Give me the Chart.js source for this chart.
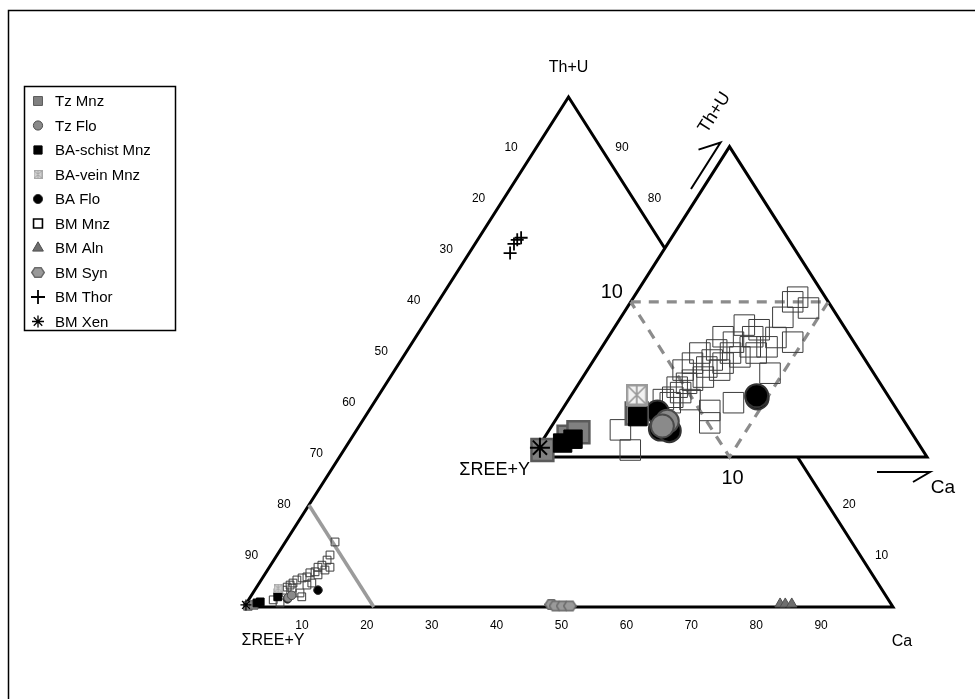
<!DOCTYPE html>
<html>
<head>
<meta charset="utf-8">
<title>Th+U – ΣREE+Y – Ca</title>
<style>
  html, body { margin: 0; padding: 0; background: #fff; }
  #wrap { width: 975px; height: 699px; }
</style>
<script src="https://cdn.jsdelivr.net/npm/chart.js@4.4.1/dist/chart.umd.min.js"></script>
</head>
<body>
<div id="wrap"><canvas id="ternary" width="975" height="699"></canvas></div>
<script>
const FONT = '"Liberation Sans", Arial, Helvetica, sans-serif';

// ---- categories ----
const seriesNames = ['Tz Mnz', 'Tz Flo', 'BA-schist Mnz', 'BA-vein Mnz', 'BA Flo',
                     'BM Mnz', 'BM Aln', 'BM Syn', 'BM Thor', 'BM Xen'];

// ---- whole diagram: each analysis as [Th+U %, Ca %]; ΣREE+Y is the remainder ----
const tzMnz      = [[0.2, 0.5], [0.4, 1.3], [2.8, 3.9]];
const tzFlo      = [[1.8, 5.9], [2.3, 6.2]];
const baSchist   = [[0.8, 1.6], [1.0, 2.0], [2.0, 4.2]];
const baVein     = [[3.7, 3.4]];
const baFlo      = [[3.3, 9.75], [1.6, 5.9]];
const bmMnz      = [[12.75, 7.65], [10.2, 8.15], [9.2, 8.2], [8.2, 7.9], [7.8, 9.35], [7.8, 7.5],
                    [7.25, 8.85], [6.9, 7.5], [6.7, 6.8], [6.3, 8.25], [5.9, 6.75], [5.7, 6.1],
                    [5.3, 5.5], [4.7, 5.2], [4.7, 8.1], [4.3, 7.55], [4.3, 4.95], [3.9, 4.7],
                    [3.7, 5.55], [3.3, 4.35], [2.75, 7.25], [2.0, 7.9], [1.4, 3.8], [0.8, 5.15]];
const bmAln      = [[0.6, 82.3], [0.6, 83.1], [0.6, 84.1]];
const bmSyn      = [[0.5, 47.1], [0.2, 47.9], [0.2, 49.0], [0.2, 50.1]];
const bmThor     = [[69.4, 6.3], [71.2, 6.0], [72.0, 6.1], [72.4, 6.5]];
const bmXen      = [[0.4, 0.1]];

// ---- enlarged ΣREE+Y corner: [Th+U %, Ca %], both axes running 0–20 % ----
const tzMnzCorner    = [[0.45, 0.3], [1.3, 1.2], [1.6, 1.55], [2.8, 3.9]];
const tzFloCorner    = [[2.3, 5.7], [2.0, 5.6]];
const baSchistCorner = [[0.9, 1.1], [1.15, 1.5], [2.6, 4.05]];
const baVeinCorner   = [[4.0, 3.3]];
const baFloCorner    = [[1.8, 5.6], [1.7, 6.1], [2.9, 4.9], [3.8, 9.5], [3.95, 9.4]];
const bmMnzCorner    = [[10.3, 8.3], [10.0, 8.2], [9.6, 9.2], [9.0, 8.2], [7.4, 9.5], [7.7, 8.5],
                        [8.2, 7.4], [7.1, 8.35], [7.1, 7.5], [6.7, 8.0], [7.4, 6.5], [6.45, 7.3],
                        [6.7, 6.7], [6.05, 6.65], [6.25, 6.0], [5.8, 5.95], [5.6, 6.7], [5.15, 6.1],
                        [6.05, 5.1], [4.95, 5.65], [5.6, 4.85], [4.75, 5.45], [4.15, 5.45], [3.85, 5.2],
                        [3.5, 5.25], [3.7, 4.8], [3.7, 6.15], [4.5, 5.1], [3.5, 8.45], [2.2, 7.9],
                        [1.75, 3.6], [0.45, 4.75], [3.0, 7.5], [5.4, 9.35], [6.9, 5.9], [7.75, 5.8],
                        [7.75, 7.3], [8.5, 6.5], [6.7, 5.15]];
const bmXenCorner    = [[0.6, 0.1]];

// ---- tick labels ----
const edgeTicks   = [10, 20, 30, 40, 50, 60, 70, 80, 90];
const rightTicks  = [90, 80, 20, 10];
const cornerTicks = [10];
const cornerRange = 20;

const mainSets = {
  'Tz Mnz': tzMnz, 'Tz Flo': tzFlo, 'BA-schist Mnz': baSchist, 'BA-vein Mnz': baVein,
  'BA Flo': baFlo, 'BM Mnz': bmMnz, 'BM Aln': bmAln, 'BM Syn': bmSyn, 'BM Thor': bmThor, 'BM Xen': bmXen
};
const cornerSets = {
  'Tz Mnz': tzMnzCorner, 'Tz Flo': tzFloCorner, 'BA-schist Mnz': baSchistCorner,
  'BA-vein Mnz': baVeinCorner, 'BA Flo': baFloCorner, 'BM Mnz': bmMnzCorner, 'BM Xen': bmXenCorner
};

// ternary composition -> plane coordinates of the main triangle (base 0..100, apex height 100)
function tern(t, c) { return { x: c + t / 2, y: t }; }
// placement of the enlarged corner triangle in the same plane
const INSET = { x0: 44.38, y0: 29.41, k: 60.86 / cornerRange };
function ternCorner(t, c) {
  return { x: INSET.x0 + INSET.k * (c + t / 2), y: INSET.y0 + INSET.k * t };
}

// ---- custom marker images ----
function hexIcon(d, fill, stroke, lw) {
  const cv = document.createElement('canvas');
  cv.width = d; cv.height = Math.round(d * 0.9);
  const g = cv.getContext('2d');
  const r = (d - lw) / 2, cx = d / 2, cy = cv.height / 2;
  g.beginPath();
  for (let i = 0; i < 6; i++) {
    const a = Math.PI / 3 * i;
    const px = cx + r * Math.cos(a), py = cy + r * 0.9 * Math.sin(a);
    if (i === 0) g.moveTo(px, py); else g.lineTo(px, py);
  }
  g.closePath();
  g.fillStyle = fill; g.fill();
  g.lineWidth = lw; g.strokeStyle = stroke; g.stroke();
  return cv;
}
function veinIcon(d, fill, stroke, lw) {
  const cv = document.createElement('canvas');
  cv.width = d; cv.height = d;
  const g = cv.getContext('2d');
  const h = lw / 2;
  g.fillStyle = fill; g.fillRect(0, 0, d, d);
  g.strokeStyle = stroke; g.lineWidth = lw;
  g.strokeRect(h, h, d - lw, d - lw);
  g.lineWidth = Math.max(1, lw * 0.7);
  g.beginPath();
  g.moveTo(h, h); g.lineTo(d - h, d - h);
  g.moveTo(d - h, h); g.lineTo(h, d - h);
  g.moveTo(d / 2, h); g.lineTo(d / 2, d - h);
  g.stroke();
  return cv;
}

const look = {
  'Tz Mnz':        { ps: 'rect', fill: '#808080', line: '#5a5a5a', r: 6, rc: 15.5, w: 1, wc: 2.5 },
  'Tz Flo':        { ps: 'circle', fill: '#8a8a8a', line: '#4a4a4a', r: 4.3, rc: 11.5, w: 1, wc: 2 },
  'BA-schist Mnz': { ps: 'rect', fill: '#000000', line: '#000000', r: 5.5, rc: 13, w: 1, wc: 1 },
  'BA-vein Mnz':   { ps: veinIcon(9, '#cfcfcf', '#a8a8a8', 1), psc: veinIcon(22, '#f2f2f2', '#9a9a9a', 2.5),
                     fill: '#cfcfcf', line: '#a8a8a8', r: 5, rc: 11, w: 1, wc: 1 },
  'BA Flo':        { ps: 'circle', fill: '#000000', line: '#333333', r: 4.3, rc: 11.5, w: 1, wc: 2 },
  'BM Mnz':        { ps: 'rect', fill: 'rgba(255,255,255,0)', line: '#3c3c3c', r: 5.5, rc: 14.5, w: 1, wc: 1 },
  'BM Aln':        { ps: 'triangle', fill: '#6e6e6e', line: '#505050', r: 6, w: 1 },
  'BM Syn':        { ps: hexIcon(14, '#9a9a9a', '#6a6a6a', 1.5), fill: '#9a9a9a', line: '#6a6a6a', r: 7, w: 1 },
  'BM Thor':       { ps: 'cross', fill: '#000000', line: '#000000', r: 6.5, w: 1.8 },
  'BM Xen':        { ps: 'star', fill: '#000000', line: '#000000', r: 5.5, rc: 10, w: 1.3, wc: 2 }
};

// stacking: lower number is drawn on top
const mainRank   = ['BM Xen', 'BM Thor', 'BM Syn', 'BM Aln', 'Tz Flo', 'BA Flo', 'BA-vein Mnz',
                    'BA-schist Mnz', 'Tz Mnz', 'BM Mnz'];
const cornerRank = ['BM Xen', 'Tz Flo', 'BA-vein Mnz', 'BA-schist Mnz', 'Tz Mnz', 'BA Flo', 'BM Mnz'];

const datasets = [];

// main triangle and the outline of the enlarged corner
const mainOutline = [tern(0, 0), tern(0, 100), tern(100, 0), tern(0, 0)];
datasets.push({ type: 'line', label: 'frame', data: mainOutline, borderColor: '#000', borderWidth: 3,
  pointRadius: 0, fill: false, tension: 0, order: 99, clip: false });
datasets.push({ type: 'line', label: 'corner limit', data: [tern(cornerRange, 0), tern(0, cornerRange)],
  borderColor: '#9b9b9b', borderWidth: 3.5, pointRadius: 0, fill: false, tension: 0, order: 98, clip: false });

mainRank.forEach((name, i) => {
  const s = look[name];
  datasets.push({
    type: 'scatter', label: name,
    data: mainSets[name].map(([t, c]) => tern(t, c)),
    pointStyle: s.ps, pointRadius: s.r, pointBackgroundColor: s.fill,
    pointBorderColor: s.line, pointBorderWidth: s.w, order: 60 + i, clip: false
  });
});

// enlarged corner triangle (white, covering what lies beneath)
const cornerOutline = [ternCorner(0, 0), ternCorner(0, cornerRange), ternCorner(cornerRange, 0), ternCorner(0, 0)];
datasets.push({ type: 'line', label: 'corner frame', data: cornerOutline, borderColor: '#000', borderWidth: 3,
  backgroundColor: '#ffffff', fill: 'shape', pointRadius: 0, tension: 0, order: 40, clip: false });
const half = cornerRange / 2;
const midOutline = [ternCorner(half, 0), ternCorner(half, half), ternCorner(0, half), ternCorner(half, 0)];
datasets.push({ type: 'line', label: 'corner field', data: midOutline, borderColor: '#8c8c8c', borderWidth: 3.2,
  borderDash: [10, 8], pointRadius: 0, fill: false, tension: 0, order: 39, clip: false });

cornerRank.forEach((name, i) => {
  const s = look[name];
  datasets.push({
    type: 'scatter', label: name + ' (corner)',
    data: cornerSets[name].map(([t, c]) => ternCorner(t, c)),
    pointStyle: s.psc || s.ps, pointRadius: s.rc, pointBackgroundColor: s.fill,
    pointBorderColor: s.line, pointBorderWidth: s.wc, order: 10 + i, clip: false
  });
});

// ---- labels, arrows, frame and key ----
const decor = {
  id: 'decor',
  beforeDraw(chart) {
    const ctx = chart.ctx;
    ctx.save();
    ctx.fillStyle = '#fff';
    ctx.fillRect(0, 0, chart.width, chart.height);
    ctx.strokeStyle = '#000'; ctx.lineWidth = 1.5;
    ctx.strokeRect(8.5, 10.5, chart.width + 20, chart.height + 20);
    ctx.restore();
  },
  afterDatasetsDraw(chart) {
    const ctx = chart.ctx, xs = chart.scales.x, ys = chart.scales.y;
    const P = (p) => [xs.getPixelForValue(p.x), ys.getPixelForValue(p.y)];
    ctx.save();
    ctx.fillStyle = '#000';
    ctx.textAlign = 'center'; ctx.textBaseline = 'middle';

    // main triangle scale numbers
    ctx.font = '12px ' + FONT;
    edgeTicks.forEach(v => {
      let [px, py] = P(tern(0, v));
      ctx.fillText(String(v), px - 7, py + 19);
      [px, py] = P(tern(100 - v, 0));
      ctx.fillText(String(v), px - 25, py);
    });
    rightTicks.forEach(v => {
      const [px, py] = P(tern(v, 100 - v));
      ctx.fillText(String(v), px + 21, py);
    });

    // apex names
    ctx.font = '16px ' + FONT;
    let [ax, ay] = P(tern(100, 0));
    ctx.fillText('Th+U', ax, ay - 29);
    [ax, ay] = P(tern(0, 0));
    ctx.fillText('ΣREE+Y', ax + 29, ay + 34);
    [ax, ay] = P(tern(0, 100));
    ctx.fillText('Ca', ax + 9, ay + 35);

    // enlarged corner numbers and names
    ctx.font = '20px ' + FONT;
    cornerTicks.forEach(v => {
      let [px, py] = P(ternCorner(v, 0));
      ctx.fillText(String(v), px - 19, py - 9);
      [px, py] = P(ternCorner(0, v));
      ctx.fillText(String(v), px + 3, py + 21);
    });
    ctx.font = '18px ' + FONT;
    const [rx, ry] = P(ternCorner(0, 0));
    ctx.textAlign = 'right';
    ctx.fillText('ΣREE+Y', rx - 2, ry + 13);

    const [tx, ty] = P(ternCorner(cornerRange, 0));
    const [cx, cy] = P(ternCorner(0, cornerRange));
    // Th+U arrow, parallel to the corner's left side
    const dx = tx - rx, dy = ty - ry, len = Math.hypot(dx, dy);
    const ux = dx / len, uy = dy / len;
    const tipX = tx - 9, tipY = ty - 4;
    ctx.strokeStyle = '#000'; ctx.lineWidth = 2;
    ctx.beginPath();
    ctx.moveTo(tipX - 55 * ux, tipY - 55 * uy);
    ctx.lineTo(tipX, tipY);
    ctx.lineTo(tipX - 22, tipY + 7);
    ctx.stroke();
    ctx.save();
    ctx.translate(tx - 15, ty - 34);
    ctx.rotate(Math.atan2(dy, dx));
    ctx.textAlign = 'center';
    ctx.fillText('Th+U', 0, 0);
    ctx.restore();
    // Ca arrow, below the corner's base
    ctx.beginPath();
    ctx.moveTo(cx - 50, cy + 15);
    ctx.lineTo(cx + 3, cy + 15);
    ctx.lineTo(cx - 14, cy + 25);
    ctx.stroke();
    ctx.textAlign = 'center';
    ctx.font = '19px ' + FONT;
    ctx.fillText('Ca', cx + 16, cy + 31);
    ctx.restore();
  },
  afterDraw(chart) {
    // key
    const ctx = chart.ctx;
    ctx.save();
    ctx.strokeStyle = '#000'; ctx.lineWidth = 1.5;
    ctx.fillStyle = '#fff';
    ctx.fillRect(24.5, 86.5, 151, 244);
    ctx.strokeRect(24.5, 86.5, 151, 244);
    const key = {
      'Tz Mnz': 6.3, 'Tz Flo': 4.6, 'BA-schist Mnz': 5.8, 'BA-vein Mnz': 5, 'BA Flo': 4.6,
      'BM Mnz': 6.3, 'BM Aln': 6.2, 'BM Syn': 7, 'BM Thor': 7, 'BM Xen': 6
    };
    ctx.font = '15px ' + FONT;
    ctx.textAlign = 'left'; ctx.textBaseline = 'middle';
    seriesNames.forEach((name, i) => {
      const s = look[name];
      const y = 101 + i * 24.5;
      ctx.fillStyle = name === 'BM Mnz' ? '#fff' : s.fill;
      ctx.strokeStyle = name === 'BM Mnz' ? '#000' : s.line;
      ctx.lineWidth = name === 'BM Mnz' ? 1.6 : s.w;
      Chart.helpers.drawPoint(ctx, { pointStyle: s.ps, radius: key[name], borderWidth: ctx.lineWidth, rotation: 0 }, 38, y);
      ctx.fillStyle = '#000';
      ctx.fillText(name, 55, y + 1);
    });
    ctx.restore();
  }
};

new Chart(document.getElementById('ternary'), {
  type: 'scatter',
  data: { datasets },
  options: {
    responsive: false,
    animation: false,
    events: [],
    layout: { autoPadding: false, padding: 0 },
    plugins: { legend: { display: false }, tooltip: { enabled: false } },
    scales: {
      x: { type: 'linear', display: false, min: -244 / 6.49, max: -244 / 6.49 + 975 / 6.49 },
      y: { type: 'linear', display: false, min: 607 / 5.1 - 699 / 5.1, max: 607 / 5.1 }
    }
  },
  plugins: [decor]
});
</script>
</body>
</html>
